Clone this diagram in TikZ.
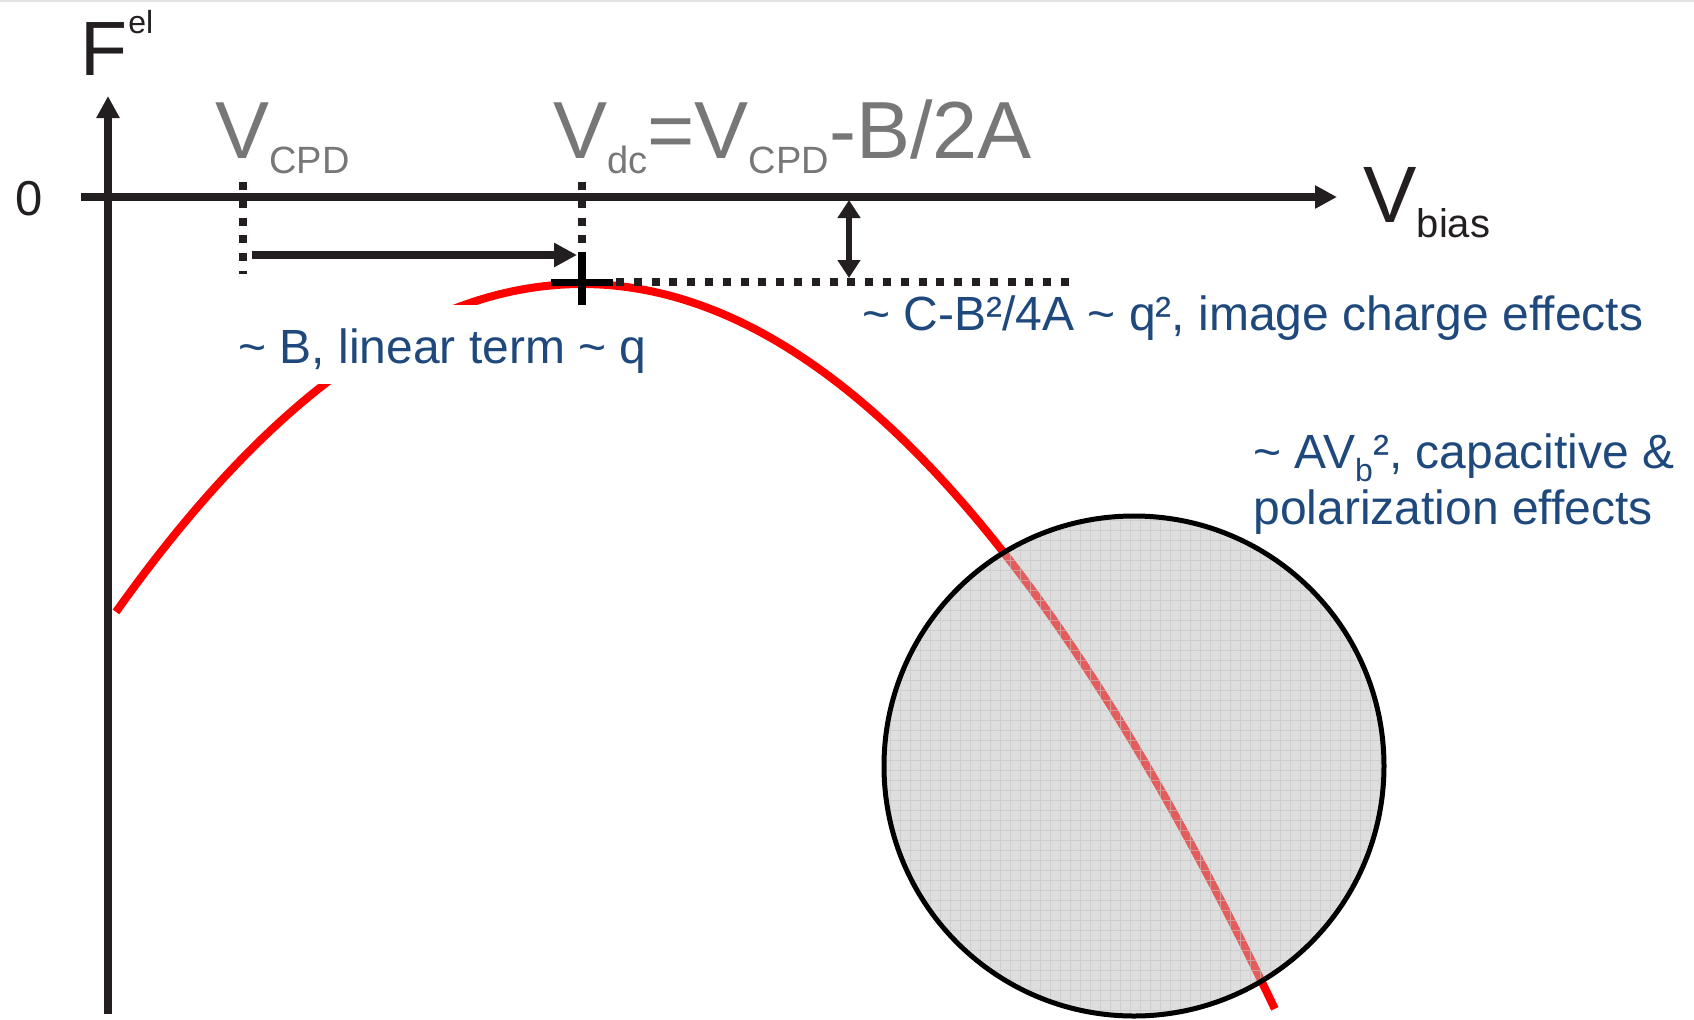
\documentclass[tikz,border=0pt]{standalone}
\usepackage{fontspec}
\setmainfont{Liberation Sans}
\usetikzlibrary{arrows.meta}
\definecolor{axc}{RGB}{35,31,32}
\definecolor{txtgray}{RGB}{119,119,119}
\definecolor{txtblue}{RGB}{31,73,125}
\definecolor{circfill}{RGB}{222,222,222}
\definecolor{gridc}{RGB}{196,196,196}
\definecolor{redin}{RGB}{228,92,92}
\definecolor{topline}{RGB}{228,228,228}
\newcommand\myfs[1]{\fontsize{#1}{#1}\selectfont}
\begin{document}
\begin{tikzpicture}[x=0.5pt,y=-0.5pt,
  axisline/.style={draw=axc,line width=4pt,-{Triangle[length=11pt,width=11pt]}},
  dotline/.style={draw=axc,line width=4pt,dash pattern=on 4pt off 4.9pt},
  redline/.style={draw=red,line width=4pt},
  gtxt/.style={text=txtgray,inner sep=0pt,anchor=base west},
  btxt/.style={text=txtblue,inner sep=0pt,anchor=base west,font=\myfs{24}},
  ktxt/.style={text=axc,inner sep=0pt,anchor=base west}]
\path[fill=white] (0,0) rectangle (1694,1019);
\useasboundingbox (0,0) rectangle (1694,1019);
\draw[topline,line width=1pt] (0,1) -- (1694,1);
% coordinates
\coordinate (yb) at (108,1014);
\coordinate (yt) at (108,96);
\coordinate (xl) at (81,197);
\coordinate (xr) at (1337,197);
\coordinate (cpdtop) at (243,182);
\coordinate (cpdbot) at (243,274);
\coordinate (dctop) at (582,182);
\coordinate (dcbot) at (582,252);
\coordinate (arrs) at (252,255);
\coordinate (arre) at (577,255);
\coordinate (plusl) at (551,282);
\coordinate (plusr) at (613,282);
\coordinate (dots) at (616,282);
\coordinate (plust) at (582,252);
\coordinate (plusb) at (582,305);
\coordinate (dotend) at (1076,282);
\coordinate (dat) at (849,200);
\coordinate (dab) at (849,278);
\coordinate (cc) at (1134,766);
% red curve
\draw[redline] plot[domain=-4.66:6.93,samples=150] ({582+100*\x},{284+15.1*\x*\x});
% circle
\fill[circfill] (cc) circle[radius=250];
\begin{scope}
  \clip (cc) circle[radius=250];
  \draw[draw=redin,line width=4pt] plot[domain=-4.66:6.93,samples=150] ({582+100*\x},{284+15.1*\x*\x});
  \draw[gridc,line width=0.5pt,opacity=0.6] (880,510) grid[step=5pt] (1390,1020);
\end{scope}
\draw[black,line width=2.5pt] (cc) circle[radius=250];
% axes
\draw[axisline] (yb) -- (yt);
\draw[axisline] (xl) -- (xr);
% dotted lines
\draw[dotline] (cpdtop) -- (cpdbot);
\draw[dotline] (dctop) -- (dcbot);
\draw[dotline] (dots) -- (dotend);
% shift arrow
\draw[draw=axc,line width=4pt,-{Triangle[length=11.5pt,width=11.5pt]}] (arrs) -- (arre);
% plus sign
\draw[black,line width=3.5pt] (plusl) -- (plusr);
\draw[black,line width=4pt] (plust) -- (plusb);
% double arrow
\draw[draw=axc,line width=3pt,{Triangle[length=9pt,width=11pt]}-{Triangle[length=9pt,width=11pt]}] (dat) -- (dab);
% texts
\node[text=axc,inner sep=0pt,font=\myfs{24.5}] (zero) at (29,199) {0};
\node[ktxt,font=\myfs{38.5}] (F) at (80,75) {F};
\node[ktxt,font=\myfs{16}] (el) at (128,33) {el};
\node[gtxt] (vcpd) at (215,158) {\myfs{40.5}V\raisebox{-7.5pt}{\myfs{19}CPD}};
\node[gtxt] (vdc) at (553,158) {\myfs{40.5}V\raisebox{-7.5pt}{\myfs{19}dc}=V\raisebox{-7.5pt}{\myfs{19}CPD}-B/2A};
\node[ktxt] (vbias) at (1363,222) {\myfs{40}V\raisebox{-7.5pt}{\myfs{20}bias}};
\node[btxt] (img) at (862,330) {\textasciitilde{} C-B²/4A \textasciitilde{} q², image charge effects};
\node[btxt,fill=white,text height=29pt,text depth=10.5pt] (lin) at (238,363) {\textasciitilde{} B, linear term \textasciitilde{} q};
\node[btxt] (cap1) at (1253,468) {\textasciitilde{} AV\raisebox{-6.5pt}{\myfs{16}b}², capacitive \&};
\node[btxt] (cap2) at (1253,524) {polarization effects};
\end{tikzpicture}
\end{document}
